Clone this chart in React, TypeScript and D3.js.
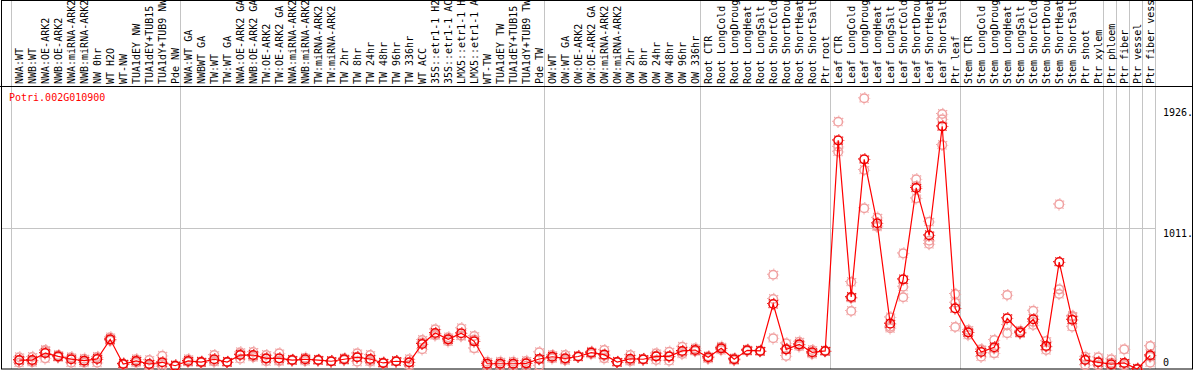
import React from 'react';
import * as d3 from 'd3';

const categories: string[] = [
  'NWA:WT', 'NWB:WT', 'NWA:OE-ARK2', 'NWB:OE-ARK2', 'NWA:miRNA-ARK2', 'NWB:miRNA-ARK2', 'NW 0hr', 'WT H2O', 'WT-NW',
  'TUA1dEY NW', 'TUA1dEY+TUB15 NW', 'TUA1dY+TUB9 NW', 'Pde NW',
  'NWA:WT GA', 'NWBWT GA', 'TW:WT', 'TW:WT GA', 'NWA:OE-ARK2 GA', 'NWB:OE-ARK2 GA', 'TW:OE-ARK2', 'TW:OE-ARK2 GA',
  'NWA:miRNA-ARK2 GA', 'NWB:miRNA-ARK2 GA', 'TW:miRNA-ARK2', 'TW:miRNA-ARK2 GA', 'TW 2hr', 'TW 8hr', 'TW 24hr',
  'TW 48hr', 'TW 96hr', 'TW 336hr', 'WT ACC', '35S::etr1-1 H2O', '35S::etr1-1 ACC', 'LMX5::etr1-1 H2O',
  'LMX5::etr1-1 ACC', 'WT-TW', 'TUA1dEY TW', 'TUA1dEY+TUB15 TW', 'TUA1dY+TUB9 TW', 'Pde TW',
  'OW:WT', 'OW:WT GA', 'OW:OE-ARK2', 'OW:OE-ARK2 GA', 'OW:miRNA-ARK2', 'OW:miRNA-ARK2 GA', 'OW 2hr', 'OW 8hr',
  'OW 24hr', 'OW 48hr', 'OW 96hr', 'OW 336hr',
  'Root CTR', 'Root LongCold', 'Root LongDrought', 'Root LongHeat', 'Root LongSalt', 'Root ShortCold',
  'Root ShortDrought', 'Root ShortHeat', 'Root ShortSalt', 'Ptr root',
  'Leaf CTR', 'Leaf LongCold', 'Leaf LongDrought', 'Leaf LongHeat', 'Leaf LongSalt', 'Leaf ShortCold',
  'Leaf ShortDrought', 'Leaf ShortHeat', 'Leaf ShortSalt', 'Ptr leaf',
  'Stem CTR', 'Stem LongCold', 'Stem LongDrought', 'Stem LongHeat', 'Stem LongSalt', 'Stem ShortCold',
  'Stem ShortDrought', 'Stem ShortHeat', 'Stem ShortSalt', 'Ptr shoot', 'Ptr xylem',
  'Ptr phloem', 'Ptr fiber', 'Ptr vessel', 'Ptr fiber vessel',
];

const groupSizes: number[] = [13, 28, 12, 10, 10, 11, 1, 1, 1, 1];

const means: number[] = [
  11, 11, 64, 39, 17, 6, 19, 168, -19, 4, -19, -6, -32,
  4, -4, 17, -4, 49, 49, 24, 24, 11, 17, 11, 2, 17, 32, 19, -11, 2, -6, 133, 216, 168, 214, 153, -17, -17, -17, -14, 19,
  36, 24, 38, 67, 52, -4, 21, 17, 39, 39, 80, 87,
  32, 100, 17, 85, 80, 436, 92, 130, 70, 80,
  1677, 489, 1533, 1048, 287, 623, 1316, 957, 1783, 403,
  221, 72, 108, 328, 221, 320, 118, 754, 317, 11, -6,
  -21, -11, -57, 47,
];

const rep1: number[] = [
  32, 34, 87, 49, 32, -9, 32, 183, -19, 17, 11, 44, -32,
  17, -4, 49, -4, 70, 72, 49, 62, 11, 29, 11, 2, 24, 62, 49, -11, 2, 17, 163, 244, 183, 252, 193, -17, -2, -17, -32, 70,
  49, 49, 36, 74, 87, -2, 49, 17, 62, 74, 112, 100,
  36, 112, 17, 85, 80, 658, 138, 150, 87, 80,
  1818, 603, 1996, 1090, 335, 820, 1382, 1060, 1877, 512,
  221, 92, 163, 504, 233, 385, 155, 1192, 340, 36, 32,
  17, 92, -57, 117,
];

const rep2: number[] = [
  -9, 4, 24, 32, -9, 21, -9, 158, -15, -9, -36, -39, -28,
  -4, 0, 4, -2, 21, 34, 2, 2, 8, 4, 8, 0, 11, -2, -2, -8, 0, -27, 93, 206, 153, 193, 100, -32, -32, -2, 4, -32,
  24, 11, 42, 57, 24, -6, 11, 14, 11, 6, 57, 82,
  21, 87, 10, 80, 77, 474, 42, 125, 57, 77,
  1629, 383, 1452, 1030, 264, 567, 1237, 916, 1837, 446,
  201, 36, 62, 277, 214, 277, 87, 547, 264, -27, -27,
  -39, -27, -60, -9,
];

const rep3: number[] = [
  10, -5, 80, 36, 28, 6, 34, 163, -23, 4, -32, -23, -36,
  -1, -8, -2, -6, 56, 41, 21, 8, 14, 18, 14, 4, 16, 36, 10, -14, 4, -8, 143, 198, 168, 197, 166, -2, -17, -32, -14, 19,
  35, 12, 36, 70, 45, -4, 3, 20, 44, 37, 71, 79,
  39, 101, 24, 90, 83, 176, 96, 115, 66, 83,
  1591, 481, 1162, 1022, 252, 487, 1330, 891, 1642, 262,
  239, 88, 99, 214, 216, 300, 112, 512, 346, 17, -2,
  -9, -11, -54, 36,
];

const geneId = 'Potri.002G010900';
const yTicks: number[] = [0, 1011, 1926];
const yTickLabels: string[] = ['0', '1011.', '1926.'];

const W = 1194;
const H = 370;
const FONT = '"DejaVu Sans Mono", "Liberation Mono", monospace';

function Ring({ cx, cy, color, fill }: { cx: number; cy: number; color: string; fill: string }) {
  const rOuter = 5.6;
  const circ = 2 * Math.PI * rOuter;
  const per = circ / 8;
  return (
    <g>
      <circle cx={cx} cy={cy} r={4.3} fill={fill} stroke={color} strokeWidth={1.5} />
      <circle
        cx={cx}
        cy={cy}
        r={rOuter}
        fill="none"
        stroke={color}
        strokeWidth={1.1}
        strokeDasharray={`1.1 ${per - 1.1}`}
        strokeDashoffset={0.55}
      />
    </g>
  );
}

export default function App() {
  const n = categories.length;
  const x = d3.scaleLinear().domain([0, n]).range([11, 1155]);
  const cx = (i: number) => x(i) + 8.2;
  const y = d3.scaleLinear().domain([0, 1926]).range([361.5, 107.5]);

  const bounds: number[] = [0];
  groupSizes.forEach((s) => bounds.push(bounds[bounds.length - 1] + s));

  const line = d3
    .line<number>()
    .x((_, i) => cx(i))
    .y((d) => y(d));

  const reps = [rep1, rep2, rep3];

  return (
    <svg
      width={W}
      height={H}
      style={{ position: 'absolute', left: 0, top: 0, background: '#fff' }}
    >
      <rect x={0} y={0} width={W} height={H} fill="#fff" />
      {/* group separators */}
      {bounds.map((b) => (
        <line key={'s' + b} x1={Math.round(x(b)) + 0.5} x2={Math.round(x(b)) + 0.5} y1={0} y2={369} stroke="#c4c4c4" strokeWidth={1} />
      ))}
      {/* gridline */}
      <line x1={1} x2={x(n)} y1={Math.round(y(1011)) + 0.5} y2={Math.round(y(1011)) + 0.5} stroke="#c4c4c4" strokeWidth={1} />
      {/* header labels */}
      {categories.map((c, i) => (
        <text
          key={'l' + i}
          transform={`translate(${cx(i) + 3.4},84) rotate(-90)`}
          fontFamily={FONT}
          fontSize={10}
          fill="#000"
        >
          {c}
        </text>
      ))}
      {/* frame */}
      <line x1={0} x2={1193} y1={86.5} y2={86.5} stroke="#000" strokeWidth={1} />
      <rect x={1.5} y={0.5} width={1191} height={368.5} fill="none" stroke="#000" strokeWidth={1} />
      {/* title */}
      <text x={9} y={101} fontFamily={FONT} fontSize={10} fill="#ff0000">
        {geneId}
      </text>
      {/* y labels */}
      {yTicks.map((t, k) => (
        <text
          key={'y' + t}
          x={1163}
          y={Math.min(y(t) + 8.6, 365.5)}
          fontFamily={FONT}
          fontSize={10}
          fill="#000"
        >
          {yTickLabels[k]}
        </text>
      ))}
      {/* replicates */}
      {reps.map((r, k) =>
        r.map((v, i) => <Ring key={`r${k}-${i}`} cx={cx(i)} cy={y(v)} color="#f0a0a0" fill="none" />)
      )}
      {/* mean line */}
      <path d={line(means) || ''} fill="none" stroke="#ff0000" strokeWidth={1.2} />
      {means.map((v, i) => (
        <Ring key={'m' + i} cx={cx(i)} cy={y(v)} color="#ee0000" fill="none" />
      ))}
    </svg>
  );
}
